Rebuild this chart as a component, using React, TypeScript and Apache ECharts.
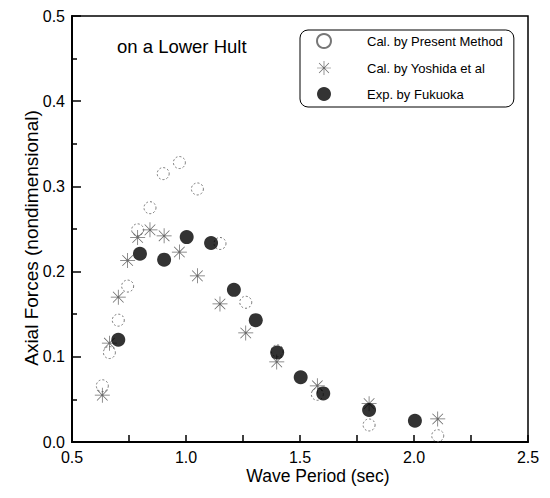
import React, { useEffect, useRef } from "react";
import * as echarts from "echarts";

// Cal. by Present Method (open circles)
const presentX = [0.633, 0.664, 0.703, 0.744, 0.788, 0.842, 0.9, 0.971, 1.05, 1.149, 1.262, 1.4, 1.576, 1.803, 2.104];
const presentY = [0.066, 0.105, 0.143, 0.183, 0.249, 0.275, 0.315, 0.328, 0.297, 0.233, 0.164, 0.107, 0.056, 0.02, 0.0074];
// Cal. by Yoshida et al (asterisks)
const yoshidaX = [0.633, 0.664, 0.703, 0.744, 0.788, 0.842, 0.904, 0.971, 1.05, 1.149, 1.262, 1.398, 1.576, 1.803, 2.104];
const yoshidaY = [0.055, 0.116, 0.17, 0.213, 0.24, 0.249, 0.242, 0.223, 0.195, 0.162, 0.128, 0.094, 0.066, 0.045, 0.027];
// Exp. by Fukuoka (filled circles)
const fukuokaX = [0.703, 0.798, 0.904, 1.003, 1.11, 1.21, 1.306, 1.4, 1.503, 1.602, 1.803, 2.004];
const fukuokaY = [0.12, 0.221, 0.214, 0.2405, 0.2335, 0.1786, 0.143, 0.105, 0.076, 0.057, 0.0376, 0.025];

const seriesNames = ["Cal. by Present Method", "Cal. by Yoshida et al", "Exp. by Fukuoka"];
const xTitle = "Wave Period (sec)";
const yTitle = "Axial Forces (nondimensional)";
const noteText = "on a Lower Hult";

const zip = (xs: number[], ys: number[]) => xs.map((x, i) => [x, ys[i]]);

// eight-armed asterisk outline
const starPath = (() => {
  const R = 10;
  const w = 0.5;
  const rin = w / Math.sin(Math.PI / 8);
  const pts: number[][] = [];
  for (let k = 0; k < 8; k++) {
    const t = (k * Math.PI) / 4;
    const dx = Math.cos(t), dy = Math.sin(t);
    const px = -dy, py = dx;
    pts.push([R * dx - w * px, R * dy - w * py]);
    pts.push([R * dx + w * px, R * dy + w * py]);
    const ti = t + Math.PI / 8;
    pts.push([rin * Math.cos(ti), rin * Math.sin(ti)]);
  }
  return (
    "path://M" +
    pts.map((p) => (p[0] + R).toFixed(3) + " " + (p[1] + R).toFixed(3)).join(" L") +
    " Z"
  );
})();

const FONT = "'Liberation Sans', Arial, sans-serif";

export default function App() {
  const ref = useRef<HTMLDivElement>(null);
  useEffect(() => {
    if (!ref.current) return;
    const chart = echarts.init(ref.current, undefined, { renderer: "svg" });
    chart.setOption({
      animation: false,
      backgroundColor: "#fff",
      textStyle: { fontFamily: FONT },
      grid: {
        left: 72,
        right: 22,
        top: 16,
        bottom: 56,
        show: true,
        borderColor: "#000",
        borderWidth: 1.5,
      },
      legend: {
        orient: "vertical",
        left: 300,
        top: 30,
        padding: [3, 11, 6, 16],
        itemWidth: 14,
        itemHeight: 14,
        itemGap: 12,
        borderColor: "#000",
        borderWidth: 1,
        borderRadius: 8,
        data: seriesNames,
        textStyle: { fontFamily: FONT, fontSize: 13, color: "#000", padding: [0, 0, 0, 31] },
      },
      graphic: [
        {
          type: "text",
          left: 117,
          top: 37,
          style: { text: noteText, fontFamily: FONT, fontSize: 18.5, fill: "#000" },
        },
      ],
      xAxis: {
        type: "value",
        min: 0.5,
        max: 2.5,
        interval: 0.5,
        name: xTitle,
        nameLocation: "middle",
        nameGap: 25,
        nameMoveOverlap: false,
        nameTextStyle: { fontFamily: FONT, fontSize: 17.5, color: "#000", padding: [0, 0, 0, 36] },
        axisLine: { show: true, onZero: false, lineStyle: { color: "#000", width: 2 } },
        axisTick: { show: true, inside: true, length: 7, lineStyle: { color: "#000", width: 1.5 } },
        minorTick: { show: true, splitNumber: 2, length: 7, lineStyle: { color: "#000", width: 1.5 } },
        splitLine: { show: false },
        axisLabel: {
          color: "#000",
          fontSize: 16,
          fontFamily: FONT,
          margin: 7,
          formatter: (v: number) => v.toFixed(1),
        },
      },
      yAxis: {
        type: "value",
        min: 0,
        max: 0.5,
        interval: 0.1,
        name: yTitle,
        nameLocation: "middle",
        nameGap: 31,
        nameMoveOverlap: false,
        nameTextStyle: { fontFamily: FONT, fontSize: 19, color: "#000", padding: [0, 18, 0, 0] },
        axisLine: { show: true, onZero: false, lineStyle: { color: "#000", width: 2 } },
        axisTick: { show: true, inside: true, length: 9, lineStyle: { color: "#000", width: 1.5 } },
        minorTick: { show: true, splitNumber: 2, length: 5, lineStyle: { color: "#000", width: 1.5 } },
        splitLine: { show: false },
        axisLabel: {
          color: "#000",
          fontSize: 16,
          fontFamily: FONT,
          margin: 7,
          formatter: (v: number) => v.toFixed(1),
        },
      },
      series: [
        {
          name: seriesNames[0],
          type: "scatter",
          data: zip(presentX, presentY),
          symbol: "circle",
          symbolSize: 12,
          itemStyle: {
            color: "rgba(255,255,255,0)",
            borderColor: "#555",
            borderWidth: 1,
            borderType: [2, 2],
          },
          z: 2,
        },
        {
          name: seriesNames[1],
          type: "scatter",
          data: zip(yoshidaX, yoshidaY),
          symbol: starPath,
          symbolSize: 15,
          itemStyle: { color: "#444" },
          z: 3,
        },
        {
          name: seriesNames[2],
          type: "scatter",
          data: zip(fukuokaX, fukuokaY),
          symbol: "circle",
          symbolSize: 14,
          itemStyle: { color: "#000" },
          z: 4,
        },
      ],
    });
    return () => chart.dispose();
  }, []);
  return (
    <div
      ref={ref}
      style={{ position: "absolute", left: 0, top: 0, width: 550, height: 498 }}
    />
  );
}
